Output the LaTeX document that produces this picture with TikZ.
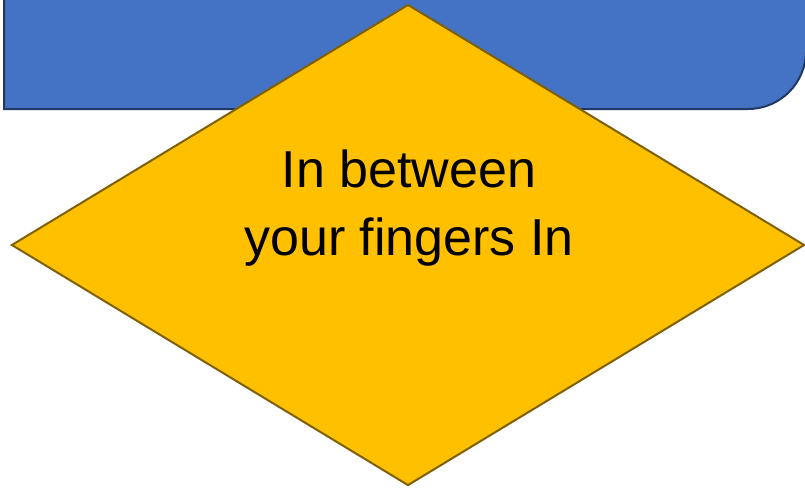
\documentclass[tikz,border=0pt]{standalone}
\usepackage{fontspec}
\setmainfont{Liberation Sans}
\usetikzlibrary{shapes.geometric}
\definecolor{bandblue}{HTML}{4472C4}
\definecolor{banddark}{HTML}{203864}
\definecolor{gold}{HTML}{FFC000}
\definecolor{golddark}{HTML}{7F6000}
\begin{document}
\begin{tikzpicture}[x=1pt, y=-1pt,
    band/.style={fill=bandblue, draw=banddark, line width=2pt},
    decision/.style={diamond, fill=gold, draw=golddark, line width=2pt,
      minimum width=793pt, minimum height=481pt, inner sep=0pt}]
    % 画面の大きさ
    \useasboundingbox (0,0) rectangle (805,488);
    \clip (0,0) rectangle (805,488);
    % 青い帯（右下の角だけ丸い）
    \draw[band] (4,-10) -- (4,109) -- (748,109) arc (90:0:58) -- (806,-10) -- cycle;
    % ひし形
    \node[decision] (choice) at (408,245) {};
    % 文字
    \node[font=\fontsize{52}{68}\selectfont, align=center, anchor=base]
      (label) at (409,255) {In between\\your fingers In};
\end{tikzpicture}
\end{document}
